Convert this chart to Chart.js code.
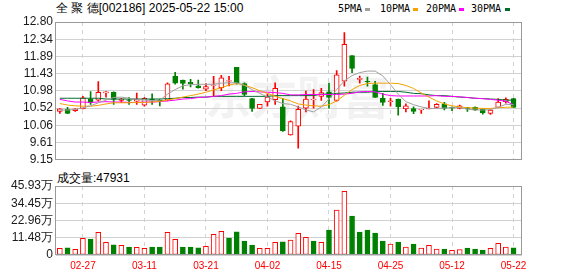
<!DOCTYPE html>
<html>
<head>
<meta charset="utf-8">
<script src="https://cdn.jsdelivr.net/npm/chart.js@4"></script>
<style>
    body { margin: 0; background: #fff; width: 578px; height: 276px; overflow: hidden; position: relative; font-family: 'Liberation Sans', Arial, sans-serif; }
    canvas { position: absolute; left: 0; }
    #graficoVelas { top: 0; }
    #graficoVolumen { top: 170px; }
    .texto { position: absolute; white-space: nowrap; color: #000; font-size: 12px; line-height: 14px; }
    .leyenda { position: absolute; top: 3px; font: 10px 'DejaVu Sans Mono', monospace; line-height: 12px; color: #000; }
    .marca { position: absolute; top: 8px; width: 5px; height: 3px; }
</style>
</head>
<body>
<div class="texto" style="left:56px; top:1px;">全 聚 德[002186] 2025-05-22 15:00</div>

<span class="leyenda" style="left:338px;">5PMA</span><span class="marca" style="left:365px; background:#a0a0a0;"></span>
<span class="leyenda" style="left:380px;">10PMA</span><span class="marca" style="left:413px; background:#f5a200;"></span>
<span class="leyenda" style="left:426px;">20PMA</span><span class="marca" style="left:459px; background:#ff00ff;"></span>
<span class="leyenda" style="left:471px;">30PMA</span><span class="marca" style="left:505px; background:#006b2e;"></span>

<div class="texto" style="left:57px; top:171px;">成交量:47931</div>

<canvas id="graficoVelas" width="578" height="170"></canvas>
<canvas id="graficoVolumen" width="578" height="106"></canvas>

<script>
// Datos (60 sesiones)
const fechas = ['02-24','02-25','02-26','02-27','02-28','03-03','03-04','03-05','03-06','03-07',
    '03-10','03-11','03-12','03-13','03-14','03-17','03-18','03-19','03-20','03-21',
    '03-24','03-25','03-26','03-27','03-28','03-31','04-01','04-02','04-03','04-07',
    '04-08','04-09','04-10','04-11','04-14','04-15','04-16','04-17','04-18','04-21',
    '04-22','04-23','04-24','04-25','04-28','04-29','04-30','05-06','05-07','05-08',
    '05-09','05-12','05-13','05-14','05-15','05-16','05-19','05-20','05-21','05-22'];
const fechasEje = ['02-27','03-11','03-21','04-02','04-15','04-25','05-12','05-22'];

const apertura = [10.43,10.49,10.45,10.50,10.75,10.73,10.92,10.94,10.72,10.74,
    10.70,10.60,10.76,10.74,10.73,11.36,11.26,11.20,11.11,11.02,
    11.12,11.06,11.23,11.60,11.17,10.77,10.51,10.68,10.74,10.55,
    9.81,10.04,10.52,10.74,10.83,10.95,10.72,11.23,11.91,11.28,
    11.23,11.14,10.78,10.69,10.76,10.50,10.51,10.47,10.50,10.54,
    10.63,10.54,10.51,10.53,10.54,10.49,10.38,10.54,10.69,10.77];
const maximo = [10.51,10.54,10.50,10.83,10.96,11.22,10.96,10.95,10.78,10.80,
    10.92,10.80,10.90,10.76,11.19,11.47,11.26,11.28,11.26,11.17,
    11.36,11.39,11.36,11.60,11.19,10.78,10.62,10.89,11.19,10.77,
    10.18,10.57,10.97,11.01,11.04,11.18,11.51,12.52,11.91,11.37,
    11.34,11.23,10.91,10.78,10.76,10.63,10.55,10.49,10.71,10.64,
    10.67,10.55,10.60,10.54,10.55,10.50,10.48,10.77,10.79,10.78];
const minimo = [10.38,10.37,10.43,10.50,10.62,10.70,10.81,10.62,10.67,10.62,
    10.62,10.57,10.62,10.58,10.71,11.15,11.02,11.08,11.05,10.98,
    10.85,10.98,11.11,11.15,10.85,10.43,10.51,10.57,10.62,9.90,
    9.80,9.46,10.42,10.52,10.72,10.52,10.70,11.10,11.46,11.18,
    11.10,10.80,10.59,10.57,10.33,10.42,10.37,10.38,10.50,10.53,
    10.47,10.45,10.50,10.43,10.46,10.36,10.35,10.53,10.65,10.53];
const cierre = [10.50,10.38,10.50,10.79,10.66,10.94,10.95,10.75,10.76,10.72,
    10.75,10.78,10.73,10.71,11.16,11.18,11.17,11.16,11.06,11.09,
    11.13,11.32,11.25,11.19,10.88,10.51,10.62,10.81,11.04,9.92,
    10.16,10.49,10.76,10.75,10.93,10.80,11.40,12.21,11.57,11.31,
    11.21,10.80,10.67,10.71,10.56,10.58,10.43,10.49,10.52,10.62,
    10.51,10.52,10.58,10.51,10.47,10.39,10.47,10.68,10.75,10.54];
const volumen = [43800,47200,38100,111300,106700,151200,84100,66900,64300,52800,
    51200,44100,53300,52900,150800,104400,53200,52700,46900,57800,
    138200,158100,112700,153400,93100,66800,44300,44100,84200,86900,
    99800,144300,117600,93200,84400,166400,299600,423800,259700,153100,
    166200,146400,93300,73200,86700,53400,73100,46800,64200,39800,
    40100,31200,35600,46700,40200,33100,44400,77800,53100,47931];

// Medias moviles tal como se ven en el grafico
const ma5 = [10.47,10.47,10.48,10.53,10.58,10.66,10.73,10.80,10.81,10.78,
    10.75,10.73,10.72,10.73,10.89,11.01,11.11,11.14,11.15,11.15,
    11.15,11.18,11.19,11.19,11.12,11.01,10.91,10.81,10.71,10.64,
    10.62,10.55,10.47,10.42,10.55,10.76,11.01,11.24,11.38,11.46,
    11.50,11.50,11.37,11.14,10.89,10.69,10.61,10.55,10.51,10.51,
    10.52,10.53,10.53,10.49,10.47,10.47,10.48,10.54,10.62,10.61];
const ma10 = [10.64,10.60,10.58,10.57,10.57,10.59,10.63,10.66,10.66,10.66,
    10.67,10.67,10.68,10.70,10.73,10.77,10.81,10.85,10.89,10.94,
    11.00,11.06,11.13,11.17,11.13,11.06,10.98,10.91,10.83,10.77,
    10.71,10.63,10.60,10.58,10.57,10.61,10.71,10.86,11.01,11.12,
    11.17,11.18,11.18,11.18,11.17,11.12,11.04,10.92,10.81,10.71,
    10.63,10.58,10.55,10.53,10.52,10.51,10.51,10.53,10.54,10.55];
const ma20 = [10.75,10.71,10.68,10.68,10.67,10.68,10.69,10.68,10.68,10.67,
    10.67,10.68,10.68,10.69,10.71,10.73,10.76,10.77,10.80,10.81,
    10.83,10.85,10.89,10.91,10.95,10.96,10.95,10.94,10.93,10.91,
    10.87,10.87,10.88,10.88,10.88,10.88,10.88,10.89,10.91,10.95,
    10.96,10.95,10.89,10.85,10.84,10.84,10.84,10.84,10.84,10.85,
    10.83,10.83,10.82,10.80,10.78,10.77,10.75,10.73,10.70,10.61];
const ma30 = [10.78,10.78,10.78,10.78,10.78,10.78,10.76,10.76,10.76,10.76,
    10.76,10.76,10.76,10.76,10.77,10.78,10.80,10.80,10.81,10.81,
    10.83,10.83,10.83,10.83,10.83,10.83,10.83,10.83,10.85,10.85,
    10.85,10.85,10.85,10.85,10.89,10.89,10.91,10.92,10.94,10.94,
    10.94,10.96,10.96,10.96,10.96,10.94,10.91,10.90,10.87,10.85,
    10.85,10.83,10.81,10.80,10.78,10.77,10.76,10.75,10.73,10.73];

const ticksPrecio = ['9.15','9.61','10.06','10.52','10.98','11.43','11.89','12.34','12.80'];
const ticksVolumen = ['0','11.48万','22.96万','34.45万','45.93万'];

const ROJO = '#ff0000', VERDE = '#008000', GRILLA = '#d2d2d2';
const PRECIO_MIN = 9.15, PRECIO_MAX = 12.80, VOL_MAX = 459300;

const posEje = fechasEje.map(f => fechas.indexOf(f));
const sube = cierre.map((c, i) => c >= apertura[i]);
const volSube = cierre.map((c, i) => c >= (i ? cierre[i - 1] : apertura[i]));

const marco = {
    id: 'marco',
    afterDraw(chart) {
        const a = chart.chartArea, ctx = chart.ctx;
        ctx.save();
        ctx.strokeStyle = '#999';
        ctx.lineWidth = 1;
        ctx.strokeRect(Math.round(a.left) - 0.5, Math.round(a.top) + 0.5, Math.round(a.right - a.left), Math.round(a.bottom - a.top) - 1);
        ctx.restore();
    }
};

const marcaAgua = {
    id: 'marcaAgua',
    beforeDraw(chart) {
        const ctx = chart.ctx;
        ctx.save();
        ctx.font = 'bold 46px "Noto Sans CJK SC"';
        ctx.fillStyle = '#f2f2f2';
        ctx.fillText('东方财富', 205, 114);
        ctx.restore();
    }
};

function ejeX(mostrarEtiquetas) {
    return {
        type: 'linear', min: -0.5, max: 60.1, offset: false,
        afterBuildTicks: s => { s.ticks = posEje.map(v => ({ value: v })); },
        afterFit: s => { s.height = mostrarEtiquetas ? 21 : 0; },
        ticks: {
            display: mostrarEtiquetas, autoSkip: false, maxRotation: 0, padding: 5,
            color: ROJO, font: { size: 10, family: 'Liberation Sans' },
            callback: (v, k) => fechasEje[k]
        },
        grid: { color: GRILLA, drawTicks: false, offset: false },
        border: { display: false, dash: [4, 4] }
    };
}

function ejeY(min, max, etiquetas) {
    const paso = (max - min) / (etiquetas.length - 1);
    return {
        min: min, max: max,
        afterBuildTicks: s => { s.ticks = etiquetas.map((t, k) => ({ value: min + k * paso })); },
        afterFit: s => { s.width = 56; },
        ticks: {
            autoSkip: false, color: '#1a1a1a', font: { size: 12, family: 'Liberation Sans' }, padding: 3,
            callback: (v, k) => etiquetas[k]
        },
        grid: { color: GRILLA, drawTicks: false },
        border: { display: false }
    };
}

function lineaMA(datos, color) {
    return {
        type: 'line', data: datos.map((v, i) => ({ x: i, y: v })),
        borderColor: color, borderWidth: 1, pointRadius: 0, tension: 0, order: 0
    };
}

new Chart(document.getElementById('graficoVelas'), {
    type: 'bar',
    data: {
        datasets: [
            lineaMA(ma5, '#a0a0a0'),
            lineaMA(ma10, '#f5a200'),
            lineaMA(ma20, '#ff00ff'),
            lineaMA(ma30, '#006b2e'),
            {
                data: cierre.map((c, i) => ({ x: i, y: [apertura[i], c] })),
                backgroundColor: sube.map(s => s ? '#fff' : VERDE),
                borderColor: sube.map(s => s ? ROJO : VERDE),
                borderWidth: 1, borderSkipped: false, barThickness: 5, grouped: false, order: 1
            },
            {
                data: cierre.map((c, i) => ({ x: i, y: [minimo[i], maximo[i]] })),
                backgroundColor: sube.map(s => s ? ROJO : VERDE),
                barThickness: 1, grouped: false, order: 2
            }
        ]
    },
    options: {
        responsive: false, animation: false, events: [],
        layout: { padding: { left: 0, right: 56, top: 22, bottom: 5 } },
        plugins: { legend: { display: false }, tooltip: { enabled: false } },
        scales: { x: ejeX(false), y: ejeY(PRECIO_MIN, PRECIO_MAX, ticksPrecio) }
    },
    plugins: [marcaAgua, marco]
});

new Chart(document.getElementById('graficoVolumen'), {
    type: 'bar',
    data: {
        datasets: [{
            data: volumen.map((v, i) => ({ x: i, y: v })),
            backgroundColor: volSube.map(s => s ? '#fff' : VERDE),
            borderColor: volSube.map(s => s ? ROJO : VERDE),
            borderWidth: 1, borderSkipped: false, barThickness: 5, grouped: false
        }]
    },
    options: {
        responsive: false, animation: false, events: [],
        layout: { padding: { left: 0, right: 56, top: 16, bottom: 0 } },
        plugins: { legend: { display: false }, tooltip: { enabled: false } },
        scales: { x: ejeX(true), y: ejeY(0, VOL_MAX, ticksVolumen) }
    },
    plugins: [marco]
});
</script>
</body>
</html>
